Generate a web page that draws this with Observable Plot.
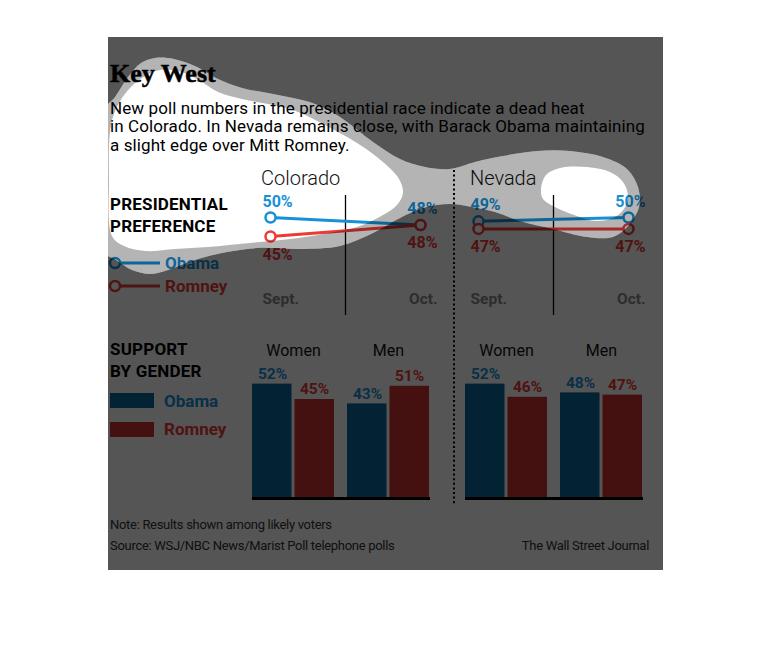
<!DOCTYPE html>
<html><head><meta charset="utf-8">
<script src="https://cdn.jsdelivr.net/npm/d3@7"></script>
<script src="https://cdn.jsdelivr.net/npm/@observablehq/plot@0.6"></script>
<style>
html,body{margin:0;padding:0;background:#fff;}
body{width:770px;height:664px;position:relative;overflow:hidden;font-family:Roboto,"Noto Sans",sans-serif;}
#c{position:absolute;left:108px;top:37px;width:555px;height:533px;background:#fff;overflow:hidden;}
.abs{position:absolute;white-space:nowrap;}
#title{left:2px;top:23.5px;font:bold 26px/26px "Liberation Serif",serif;color:#000;-webkit-text-stroke:0.5px #000;}
#sub{left:2px;top:61.6px;font-size:17px;line-height:18.8px;color:#000;letter-spacing:0.1px;}
.sec{left:2px;font-weight:bold;font-size:17px;line-height:22px;color:#000;letter-spacing:0.2px;}
.leg{font-weight:bold;font-size:17px;line-height:17px;}
.state{font-weight:300;font-size:20px;line-height:20px;color:#111;}
.foot{font-size:13px;line-height:13px;color:#333;letter-spacing:-0.3px;}
svg.layer{position:absolute;left:0;top:0;}
</style></head>
<body>
<div id="c">
  <div id="title" class="abs">Key West</div>
  <div id="sub" class="abs">New poll numbers in the presidential race indicate a dead heat<br>in Colorado. In Nevada remains close, with Barack Obama maintaining<br>a slight edge over Mitt Romney.</div>
  <div class="abs sec" style="top:156px">PRESIDENTIAL<br>PREFERENCE</div>
  <div class="abs sec" style="top:302px;line-height:21.5px">SUPPORT<br>BY GENDER</div>
  <div class="abs state" style="left:153px;top:131px">Colorado</div>
  <div class="abs state" style="left:362px;top:131px">Nevada</div>
  <div class="abs foot" style="left:2px;top:480.5px">Note: Results shown among likely voters</div>
  <div class="abs foot" style="left:2px;top:501.5px">Source: WSJ/NBC News/Marist Poll telephone polls</div>
  <div class="abs foot" style="right:14px;top:501.5px">The Wall Street Journal</div>
</div>
<script>
// ---- data ----
const candidates = ["Obama", "Romney"];
const months = ["Sept.", "Oct."];
const coloradoObama = [50, 48];
const coloradoRomney = [45, 48];
const nevadaObama = [49, 50];
const nevadaRomney = [47, 47];
const genders = ["Women", "Men"];
const coloradoGenderObama = [52, 43];
const coloradoGenderRomney = [45, 51];
const nevadaGenderObama = [52, 48];
const nevadaGenderRomney = [46, 47];

// ---- styles ----
const blue = "#1591d8", red = "#ee3a35";
const barBlue = "#0a6aa0", barRed = "#cc3530";
const gray = "#888";
const W = 555, H = 533;
const C = document.getElementById("c");

function place(svg) {
  svg.classList.add("layer");
  svg.style.position = "absolute"; svg.style.left = "0px"; svg.style.top = "0px";
  C.appendChild(svg);
}

function linePlot(obama, romney, left, right) {
  const rows = months.flatMap((m, i) => [
    {month: m, cand: "Obama", value: obama[i]},
    {month: m, cand: "Romney", value: romney[i]}
  ]);
  const lab = (m, c, anchor, dx, dy) => Plot.text(rows.filter(d => d.month === m && d.cand === c), {
    x: "month", y: "value", text: d => d.value + "%", fill: "cand",
    textAnchor: anchor, dx, dy, fontSize: 16, fontWeight: "bold", fontFamily: "Roboto"
  });
  const mon = {frameAnchor: "bottom", lineAnchor: "middle", dy: -16, fill: gray, fontSize: 15.5, fontWeight: "bold", fontFamily: "Roboto"};
  return Plot.plot({
    width: W, height: H,
    marginLeft: left, marginRight: W - right, marginTop: 158, marginBottom: H - 278,
    x: {type: "point", domain: months, padding: 0, axis: null},
    y: {domain: [45, 50], range: [199, 180], axis: null},
    color: {domain: candidates, range: [blue, red]},
    style: {background: "transparent", overflow: "visible", fontFamily: "Roboto"},
    marks: [
      Plot.ruleX([0], {x: null, stroke: "#000", strokeWidth: 1.3}),
      Plot.lineY(rows, {x: "month", y: "value", z: "cand", stroke: "cand", strokeWidth: 3}),
      Plot.dot(rows, {x: "month", y: "value", stroke: "cand", fill: "white", r: 5, strokeWidth: 2.5}),
      lab(months[0], "Obama", "start", -8, -16),
      lab(months[0], "Romney", "start", -8, 18),
      lab(months[1], "Obama", "end", 17, -16),
      lab(months[1], "Romney", "end", 17, 18),
      Plot.text([months[0]], {x: d => d, text: d => d, dx: -8, textAnchor: "start", ...mon}),
      Plot.text([months[1]], {x: d => d, text: d => d, dx: 17, textAnchor: "end", ...mon})
    ]
  });
}

function barPlot(obama, romney, left, right) {
  const rows = genders.map((g, i) => ({gender: g, Obama: obama[i], Romney: romney[i]}));
  const common = {fontSize: 15.5, fontWeight: "bold", fontFamily: "Roboto", dy: -10};
  return Plot.plot({
    width: W, height: H,
    marginLeft: left, marginRight: W - right, marginTop: 313, marginBottom: H - 461,
    x: {domain: genders, paddingInner: 0.135, paddingOuter: 0, axis: null},
    y: {domain: [0, 52], range: [461, 461 - 52 * 2.2], axis: null},
    style: {background: "transparent", overflow: "visible", fontFamily: "Roboto"},
    marks: [
      Plot.barY(rows, {x: "gender", y: "Obama", fill: barBlue, insetRight: 42.5}),
      Plot.barY(rows, {x: "gender", y: "Romney", fill: barRed, insetLeft: 42.5}),
      Plot.ruleY([0], {stroke: "#000", strokeWidth: 3}),
      Plot.text(rows, {x: "gender", y: "Obama", text: d => d.Obama + "%", fill: blue, dx: -21, ...common}),
      Plot.text(rows, {x: "gender", y: "Romney", text: d => d.Romney + "%", fill: red, dx: 21, ...common}),
      Plot.text(genders, {x: d => d, text: d => d, frameAnchor: "top", lineAnchor: "middle", fill: "#111", fontSize: 16, fontFamily: "Roboto"})
    ]
  });
}

place(linePlot(coloradoObama, coloradoRomney, 162, 312));
place(linePlot(nevadaObama, nevadaRomney, 370, 520));
place(barPlot(coloradoGenderObama, coloradoGenderRomney, 144, 322));
place(barPlot(nevadaGenderObama, nevadaGenderRomney, 357, 535));

// ---- legends & separator (static decoration) ----
const st = d3.create("svg").attr("class", "layer").attr("width", W).attr("height", H)
  .style("position", "absolute").style("left", "0px").style("top", "0px");
st.append("line").attr("x1", 346).attr("x2", 346).attr("y1", 133).attr("y2", 468)
  .attr("stroke", "#000").attr("stroke-width", 2).attr("stroke-dasharray", "2,2.6");
[[226, blue], [249, red]].forEach(([y, c]) => {
  st.append("line").attr("x1", 7).attr("x2", 52).attr("y1", y).attr("y2", y).attr("stroke", c).attr("stroke-width", 3);
  st.append("circle").attr("cx", 7).attr("cy", y).attr("r", 5).attr("fill", "#fff").attr("stroke", c).attr("stroke-width", 2.5);
});
[[356, barBlue], [385, barRed]].forEach(([y, c]) => {
  st.append("rect").attr("x", 2).attr("y", y).attr("width", 44).attr("height", 15).attr("fill", c);
});
C.appendChild(st.node());
[["Obama", 57, 217.5, blue], ["Romney", 57, 240.5, red], ["Obama", 56, 355.5, blue], ["Romney", 56, 383.5, red]].forEach(([t, x, y, c]) => {
  const d = document.createElement("div");
  d.className = "abs leg"; d.style.left = x + "px"; d.style.top = y + "px"; d.style.color = c; d.textContent = t;
  C.appendChild(d);
});

// ---- spotlight overlay ----
const outer = [[100,114],[115,97],[128,77],[141,63],[155,58],[174,59],[197,67],[218,79],[242,88],[268,93],[293,98],[315,104],[340,117],[373,142],[400,159],[425,167],[450,169],[475,162],[503,156],[537,151],[570,151],[603,157],[627,169],[638,187],[639,207],[628,226],[613,237],[587,237],[553,229],[520,221],[495,212],[472,207],[450,204],[423,208],[400,218],[373,233],[340,246],[300,249],[258,248],[222,253],[192,261],[168,270],[150,274],[132,270],[116,260],[100,250],[94,180]];
const innerL = [[111,125],[119,103],[131,87],[145,76],[160,70],[178,71],[197,79],[218,92],[242,99],[268,104],[293,110],[323,124],[357,143],[383,162],[399,179],[403,193],[397,205],[383,215],[357,227],[323,234],[290,239],[250,243],[208,247],[175,249],[145,251],[124,246],[112,236],[109,180]];
const innerR = [[541,190],[546,175],[560,168],[587,167],[610,172],[623,182],[628,196],[624,209],[613,218],[596,221],[577,216],[557,208],[543,199]];
const curve = d3.line().curve(d3.curveCatmullRomClosed.alpha(0.5));
const ov = d3.create("svg").attr("class", "layer").attr("width", W).attr("height", H)
  .attr("viewBox", "108 37 555 533")
  .style("position", "absolute").style("left", "0px").style("top", "0px").style("pointer-events", "none");
ov.append("path").attr("fill-rule", "evenodd").attr("fill", "rgba(0,0,0,0.667)")
  .attr("d", "M90,30H670V580H90Z" + curve(outer));
ov.append("path").attr("fill-rule", "evenodd").attr("fill", "rgba(0,0,0,0.294)")
  .attr("d", curve(outer) + curve(innerL) + curve(innerR));
C.appendChild(ov.node());
</script>
</body></html>
